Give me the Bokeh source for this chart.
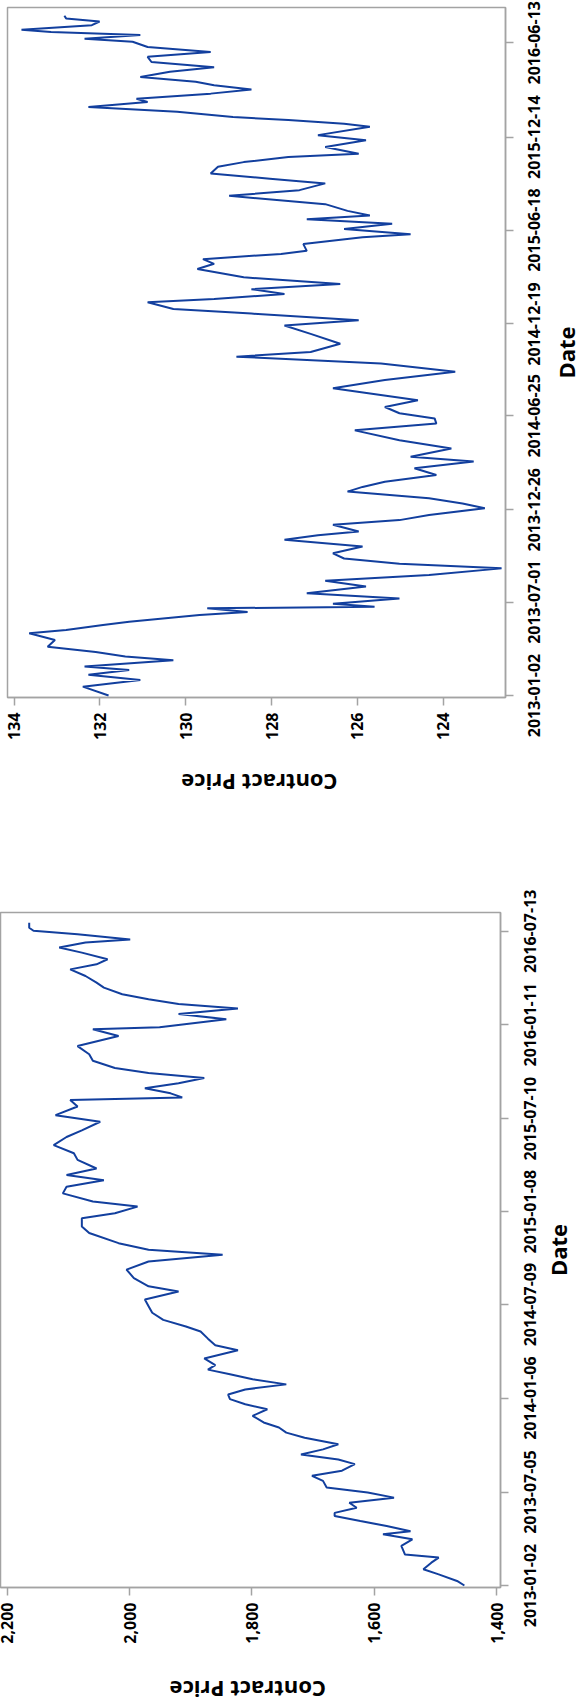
from datetime import datetime
from math import pi

from bokeh.core.properties import value
from bokeh.embed import file_html
from bokeh.layouts import row
from bokeh.models import (ColumnDataSource, FixedTicker, LinearAxis,
                          NumeralTickFormatter, Range1d)
from bokeh.plotting import figure
from bokeh.resources import INLINE

# ---------------- data: upper chart ----------------
bond_dates = [
    "2013-01-02", "2013-01-19", "2013-02-01", "2013-02-11", "2013-02-20", "2013-02-27",
    "2013-03-11", "2013-03-18", "2013-03-27", "2013-04-06", "2013-04-19", "2013-05-02",
    "2013-05-08", "2013-05-18", "2013-05-24", "2013-06-06", "2013-06-12", "2013-06-19",
    "2013-06-22", "2013-06-28", "2013-07-08", "2013-07-18", "2013-07-31", "2013-08-11",
    "2013-08-22", "2013-09-04", "2013-09-13", "2013-09-23", "2013-10-03", "2013-10-16",
    "2013-10-29", "2013-11-07", "2013-11-14", "2013-11-27", "2013-12-06", "2013-12-16",
    "2013-12-29", "2014-01-07", "2014-01-17", "2014-01-30", "2014-02-08", "2014-02-18",
    "2014-03-03", "2014-03-16", "2014-03-29", "2014-04-07", "2014-04-23", "2014-05-09",
    "2014-05-28", "2014-06-10", "2014-06-20", "2014-06-30", "2014-07-12", "2014-07-25",
    "2014-08-17", "2014-09-02", "2014-09-18", "2014-10-04", "2014-10-17", "2014-10-26",
    "2014-11-11", "2014-11-30", "2014-12-16", "2014-12-26", "2015-01-08", "2015-01-17",
    "2015-01-30", "2015-02-05", "2015-02-15", "2015-02-24", "2015-03-06", "2015-03-19",
    "2015-04-04", "2015-04-14", "2015-04-23", "2015-05-03", "2015-05-09", "2015-05-22",
    "2015-06-04", "2015-06-10", "2015-06-20", "2015-06-30", "2015-07-09", "2015-07-16",
    "2015-07-25", "2015-08-07", "2015-08-23", "2015-09-03", "2015-09-16", "2015-09-25",
    "2015-10-05", "2015-10-18", "2015-10-27", "2015-11-06", "2015-11-12", "2015-11-25",
    "2015-12-08", "2015-12-18", "2016-01-03", "2016-01-09", "2016-01-16", "2016-01-22",
    "2016-02-01", "2016-02-10", "2016-02-20", "2016-02-26", "2016-03-07", "2016-03-15",
    "2016-03-23", "2016-03-30", "2016-04-08", "2016-04-18", "2016-04-27", "2016-05-07",
    "2016-05-17", "2016-05-26", "2016-06-05", "2016-06-15", "2016-06-21", "2016-06-28",
    "2016-07-04", "2016-07-08", "2016-07-17", "2016-07-24", "2016-07-30", "2016-08-04",
]
bond_prices = [
    131.8, 132.4, 131.06, 132.27, 131.32, 132.36,
    130.29, 131.41, 132.1, 133.22, 133.05, 133.65,
    132.79, 131.93, 131.32, 129.68, 128.56, 129.5,
    125.6, 126.57, 125.02, 127.18, 125.8, 126.75,
    124.33, 122.64, 125.02, 126.31, 126.57, 125.88,
    127.7, 126.92, 125.97, 126.57, 125.02, 124.33,
    123.03, 123.55, 124.33, 126.23, 125.88, 125.36,
    124.16, 124.67, 123.29, 124.76, 123.81, 125.02,
    126.06, 124.16, 124.2, 125.02, 125.36, 124.59,
    126.57, 125.36, 123.72, 125.45, 128.82, 127.09,
    126.4, 127.09, 127.7, 125.97, 128.47, 130.29,
    130.89, 129.34, 127.7, 128.47, 126.4, 128.65,
    129.73, 129.34, 129.6, 127.78, 127.18, 127.26,
    125.88, 124.76, 126.31, 125.19, 127.18, 125.71,
    126.23, 126.75, 128.99, 127.35, 126.75, 128.04,
    129.42, 129.25, 128.65, 127.61, 125.97, 126.75,
    125.8, 126.92, 125.71, 126.31, 127.61, 128.9,
    130.2, 132.27, 130.89, 131.15, 129.42, 128.47,
    129.34, 129.77, 131.06, 130.37, 129.34, 130.8,
    130.89, 129.42, 130.89, 131.24, 132.36, 131.06,
    133.14, 133.83, 132.19, 132.01, 132.79, 132.83,
]
bond_date_ticks = ["2013-01-02", "2013-07-01", "2013-12-26", "2014-06-25",
                   "2014-12-19", "2015-06-18", "2015-12-14", "2016-06-13"]
bond_price_ticks = [124, 126, 128, 130, 132, 134]

# ---------------- data: lower chart ----------------
idx_dates = [
    "2013-01-02", "2013-01-11", "2013-01-24", "2013-02-03", "2013-02-16", "2013-02-26",
    "2013-03-04", "2013-03-21", "2013-04-03", "2013-04-13", "2013-04-19", "2013-04-29",
    "2013-05-09", "2013-05-19", "2013-05-25", "2013-06-04", "2013-06-14", "2013-06-24",
    "2013-07-04", "2013-07-14", "2013-07-27", "2013-08-06", "2013-08-16", "2013-08-29",
    "2013-09-07", "2013-09-17", "2013-09-27", "2013-10-07", "2013-10-20", "2013-10-30",
    "2013-11-09", "2013-11-19", "2013-12-02", "2013-12-15", "2013-12-25", "2014-01-04",
    "2014-01-13", "2014-01-23", "2014-02-02", "2014-02-12", "2014-02-22", "2014-03-03",
    "2014-03-12", "2014-03-25", "2014-04-10", "2014-04-20", "2014-05-03", "2014-05-17",
    "2014-05-27", "2014-06-09", "2014-06-23", "2014-07-06", "2014-07-19", "2014-08-04",
    "2014-08-14", "2014-08-30", "2014-09-16", "2014-10-02", "2014-10-15", "2014-10-25",
    "2014-11-07", "2014-11-27", "2014-12-10", "2014-12-26", "2015-01-05", "2015-01-18",
    "2015-01-28", "2015-02-13", "2015-02-26", "2015-03-11", "2015-03-21", "2015-04-03",
    "2015-04-20", "2015-05-03", "2015-05-19", "2015-06-04", "2015-06-17", "2015-07-04",
    "2015-07-17", "2015-08-03", "2015-08-16", "2015-08-21", "2015-08-29", "2015-09-08",
    "2015-09-18", "2015-09-28", "2015-10-08", "2015-10-18", "2015-11-01", "2015-11-14",
    "2015-11-30", "2015-12-20", "2016-01-02", "2016-01-06", "2016-01-22", "2016-02-01",
    "2016-02-12", "2016-02-21", "2016-03-01", "2016-03-11", "2016-03-24", "2016-04-03",
    "2016-04-16", "2016-04-29", "2016-05-09", "2016-05-19", "2016-06-01", "2016-06-11",
    "2016-06-21", "2016-06-27", "2016-07-07", "2016-07-14", "2016-07-20", "2016-07-30",
]
idx_prices = [
    1453, 1465, 1495, 1520, 1507, 1495,
    1550, 1556, 1538, 1586, 1541, 1580,
    1623, 1665, 1665, 1629, 1641, 1568,
    1611, 1678, 1684, 1702, 1653, 1632,
    1659, 1720, 1684, 1659, 1714, 1744,
    1756, 1781, 1799, 1775, 1811, 1836,
    1839, 1811, 1744, 1799, 1836, 1872,
    1860, 1878, 1823, 1860, 1872, 1884,
    1908, 1945, 1963, 1969, 1975, 1920,
    1969, 1993, 2005, 1969, 1848, 1969,
    2018, 2066, 2078, 2078, 2024, 1987,
    2060, 2109, 2103, 2042, 2103, 2054,
    2085, 2091, 2124, 2103, 2078, 2048,
    2121, 2085, 2097, 1914, 1933, 1975,
    1920, 1878, 1969, 2024, 2060, 2066,
    2085, 2018, 2060, 1951, 1842, 1920,
    1823, 1920, 1969, 2012, 2042, 2054,
    2072, 2097, 2054, 2036, 2078, 2115,
    2072, 1999, 2085, 2157, 2164, 2164,
]
idx_date_ticks = ["2013-01-02", "2013-07-05", "2014-01-06", "2014-07-09",
                  "2015-01-08", "2015-07-10", "2016-01-11", "2016-07-13"]
idx_price_ticks = [1400, 1600, 1800, 2000, 2200]

LINE = "#123f9e"
GRAY = "#a3a3a3"
FONT = "Open Sans"
EPOCH = datetime(1970, 1, 1)
TITLE_PX = 22              # axis-title font size
TITLE_W = 6.93 * TITLE_PX  # approx. width of "Contract Price" in Open Sans Bold
RIGHT_GAP = 10             # border right of the frame (holds the date ticks)
SIDE_W = 80                # width of the strip holding date labels and "Date"


def to_dt(s):
    return datetime.strptime(s, "%Y-%m-%d")


def ms(d):
    return (d - EPOCH).total_seconds() * 1000.0


def quiet(ax):
    ax.axis_line_color = None
    ax.major_tick_line_color = None
    ax.minor_tick_line_color = None
    ax.major_tick_out = 0
    ax.major_tick_in = 0


def style_fig(f):
    f.xgrid.visible = False
    f.ygrid.visible = False
    f.background_fill_color = "white"
    f.border_fill_color = "white"


def chart(dates, prices, date_ticks, price_ticks, price_range, date_range,
          fw, fh, left, top, bottom, price_fmt, title_center, title_standoff,
          label_gap, date_title_x):
    x0, x1 = price_range
    yr = Range1d(ms(date_range[0]), ms(date_range[1]))
    total_h = top + fh + bottom
    p = figure(
        width=left + fw + RIGHT_GAP, height=total_h,
        x_range=Range1d(x0, x1), y_range=yr, y_axis_location=None,
        output_backend="svg", toolbar_location=None, title=None,
        min_border_left=left, min_border_top=top,
        min_border_right=RIGHT_GAP, min_border_bottom=bottom,
    )
    style_fig(p)
    src = ColumnDataSource(dict(date=[to_dt(d) for d in dates], price=prices))
    p.line("price", "date", source=src, line_color=LINE, line_width=2)
    p.outline_line_color = GRAY
    p.outline_line_width = 1.5

    # price axis: labels read bottom-to-top
    xa = p.xaxis[0]
    xa.ticker = FixedTicker(ticks=price_ticks)
    xa.formatter = price_fmt
    xa.major_label_orientation = pi / 2
    xa.major_label_standoff = 7
    xa.major_label_text_font = FONT
    xa.major_label_text_font_size = "16px"
    xa.major_label_text_font_style = "bold"
    xa.major_label_text_color = "black"
    xa.axis_line_color = GRAY
    xa.axis_line_width = 1.5
    xa.major_tick_line_color = GRAY
    xa.major_tick_line_width = 1.5
    xa.major_tick_in = 0
    xa.major_tick_out = 8
    xa.minor_tick_line_color = None

    # upside-down "Contract Price", centred under the frame
    x_pp = (x1 - x0) / fw
    t_at = round(x0 + (title_center - TITLE_W / 2) * x_pp, 6)
    xt = LinearAxis(ticker=FixedTicker(ticks=[t_at]),
                    major_label_overrides={t_at: "Contract Price"})
    quiet(xt)
    xt.major_label_orientation = pi
    xt.major_label_standoff = title_standoff
    xt.major_label_text_font = FONT
    xt.major_label_text_font_size = f"{TITLE_PX}px"
    xt.major_label_text_font_style = "bold"
    xt.major_label_text_color = "black"
    p.add_layout(xt, "below")

    # date ticks on the right edge of the frame (labels live in the side strip)
    tick_ms = [ms(to_dt(d)) for d in date_ticks]
    ya = LinearAxis(ticker=FixedTicker(ticks=tick_ms),
                    major_label_overrides={t: "" for t in tick_ms})
    ya.axis_line_color = GRAY
    ya.axis_line_width = 1.5
    ya.major_tick_line_color = GRAY
    ya.major_tick_line_width = 1.5
    ya.major_tick_in = 0
    ya.major_tick_out = 8
    ya.minor_tick_line_color = None
    ya.major_label_standoff = 0
    ya.major_label_text_font_size = "0px"
    p.add_layout(ya, "right")

    # side strip: date labels (reading upwards, centred on ticks) + "Date"
    sfw = SIDE_W - label_gap
    s = figure(
        width=SIDE_W, height=total_h,
        x_range=Range1d(0, sfw), y_range=yr,
        x_axis_location=None, y_axis_location="left",
        output_backend="svg", toolbar_location=None, title=None,
        min_border_left=label_gap, min_border_top=top,
        min_border_right=0, min_border_bottom=bottom,
    )
    style_fig(s)
    s.outline_line_color = None
    sa = s.yaxis[0]
    sa.ticker = FixedTicker(ticks=tick_ms)
    sa.major_label_overrides = dict(zip(tick_ms, date_ticks))
    quiet(sa)
    sa.major_label_orientation = "parallel"
    sa.major_label_standoff = 0
    sa.major_label_text_font = FONT
    sa.major_label_text_font_size = "16px"
    sa.major_label_text_font_style = "bold"
    sa.major_label_text_color = "black"
    s.text(x=[date_title_x], y=[(yr.start + yr.end) / 2], text=["Date"],
           angle=pi / 2, text_align="center", text_baseline="alphabetic",
           text_font=value(FONT), text_font_size=value(f"{TITLE_PX}px"),
           text_font_style="bold", text_color="black")
    return row(p, s)


top_chart = chart(
    bond_dates, bond_prices, bond_date_ticks, bond_price_ticks,
    (134.156, 122.548), (datetime(2012, 12, 29, 3), datetime(2016, 8, 20)),
    498, 690, 7, 7, 150, NumeralTickFormatter(format="0"),
    250, 40, 25, 25)

bottom_chart = chart(
    idx_dates, idx_prices, idx_date_ticks, idx_price_ticks,
    (2210.9, 1394.0), (datetime(2012, 12, 29, 2), datetime(2016, 8, 19)),
    500, 675, 0, 65, 140, NumeralTickFormatter(format="0,0"),
    245.3, 43, 26, 21)

with open("out.html", "w") as f:
    f.write(file_html([top_chart, bottom_chart], INLINE))
